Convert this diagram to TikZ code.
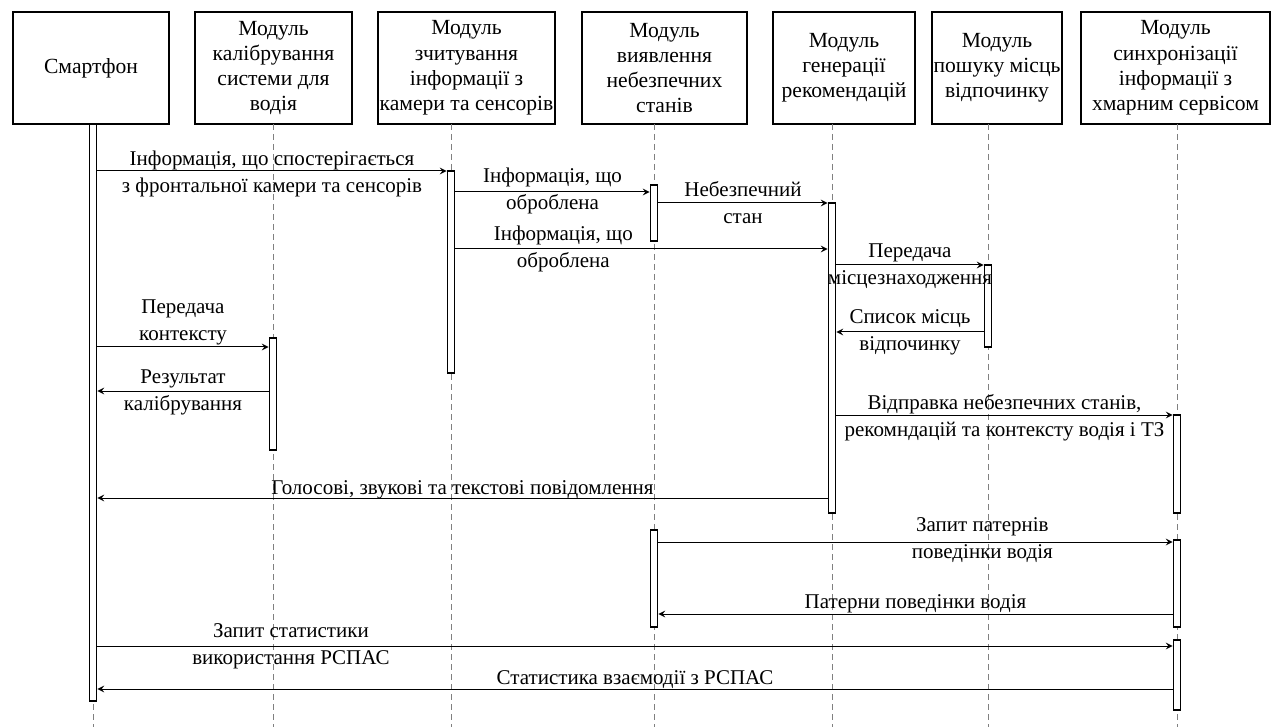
\documentclass[tikz,border=0pt]{standalone}
\usepackage{fontspec}
\setmainfont{Liberation Serif}
\usetikzlibrary{arrows,positioning,fit,calc}

\begin{document}
\begin{tikzpicture}[x=0.5pt, y=-0.5pt, node distance=13pt]
  \tikzstyle{box} = [rectangle, draw, line width=0.6pt, align=center, minimum height=56pt, inner xsep=0pt, outer sep=0pt, font=\fontsize{10.8}{12.6}\selectfont]
  \tikzstyle{life} = [gray, densely dashed, line width=0.4pt]
  \tikzstyle{bar} = [rectangle, draw, line width=0.9pt, fill=white, inner xsep=1.75pt, inner ysep=0pt]
  \tikzstyle{msg} = [->, >=stealth, line width=0.5pt]
  \tikzstyle{lbl} = [align=center, inner sep=0pt, font=\fontsize{10.5}{13.5}\selectfont]
  \useasboundingbox[fill=white] (0,0) rectangle (1280,727);

  % participants
  \node [box, minimum width=78pt] (sm) at (91,68) {Смартфон};
  \node [box, minimum width=78.5pt, right=of sm] (cal) {Модуль\\калібрування\\системи для\\водія};
  \node [box, minimum width=88.5pt, right=of cal] (rd) {Модуль\\зчитування\\інформації з\\камери та сенсорів};
  \node [box, minimum width=82.5pt, right=13.5pt of rd] (det) {Модуль\\виявлення\\небезпечних\\станів};
  \node [box, minimum width=71pt, right=of det] (gen) {Модуль\\генерації\\рекомендацій};
  \node [box, minimum width=65pt, right=8.5pt of gen] (rest) {Модуль\\пошуку місць\\відпочинку};
  \node [box, minimum width=94.5pt, right=9.5pt of rest] (sync) {Модуль\\синхронізації\\інформації з\\хмарним сервісом};

  % lifelines
  \foreach \n/\x in {sm/93, cal/273, rd/451, det/654, gen/832, rest/988, sync/1177}
    \draw [life] (\n.south -| \x,0) -- (\x,727);

  % activations
  \node [bar, fit={(93,124) (93,701)}] (smbar) {};
  \node [bar, fit={(273,338) (273,450)}] (calbar) {};
  \node [bar, fit={(451,171) (451,373)}] (rdbar) {};
  \node [bar, fit={(654,185) (654,241)}] (detbar) {};
  \node [bar, fit={(832,203) (832,513)}] (genbar) {};
  \node [bar, fit={(988,265) (988,347)}] (restbar) {};
  \node [bar, fit={(1177,415) (1177,513)}] (syncbar) {};
  \node [bar, fit={(654,530) (654,627)}] (detbar2) {};
  \node [bar, fit={(1177,540) (1177,627)}] (syncbar2) {};
  \node [bar, fit={(1177,640) (1177,710)}] (syncbar3) {};

  % messages
  \draw [msg] (smbar.east |- 0,171) -- node[lbl, yshift=-1.5pt] {Інформація, що спостерігається\\з фронтальної камери та сенсорів} (rdbar.west |- 0,171);
  \draw [msg] (rdbar.east |- 0,192) -- node[lbl, yshift=0.75pt] {Інформація, що\\оброблена} (detbar.west |- 0,192);
  \draw [msg] (detbar.east |- 0,203) -- node[lbl] {Небезпечний\\стан} (genbar.west |- 0,203);
  \draw [msg] (rdbar.east |- 0,249) -- node[lbl, pos=0.29] {Інформація, що\\оброблена} (genbar.west |- 0,249);
  \draw [msg] (genbar.east |- 0,265) -- node[lbl, yshift=-0.75pt] {Передача\\місцезнаходження} (restbar.west |- 0,265);
  \draw [msg] (restbar.west |- 0,332) -- node[lbl] {Список місць\\відпочинку} (genbar.east |- 0,332);
  \draw [msg] (smbar.east |- 0,347) -- node[lbl, yshift=12.25pt] {Передача\\контексту} (calbar.west |- 0,347);
  \draw [msg] (calbar.west |- 0,391) -- node[lbl, yshift=-0.75pt] {Результат\\калібрування} (smbar.east |- 0,391);
  \draw [msg] (genbar.east |- 0,415) -- node[lbl, yshift=-1.25pt] {Відправка небезпечних станів,\\рекомндацій та контексту водія і ТЗ} (syncbar.west |- 0,415);
  \draw [msg] (genbar.west |- 0,498) -- node[lbl, anchor=base, yshift=2pt] {Голосові, звукові та текстові повідомлення} (smbar.east |- 0,498);
  \draw [msg] (detbar2.east |- 0,542) -- node[lbl, pos=0.63, yshift=1pt] {Запит патернів\\поведінки водія} (syncbar2.west |- 0,542);
  \draw [msg] (syncbar2.west |- 0,614) -- node[lbl, anchor=base, yshift=3pt] {Патерни поведінки водія} (detbar2.east |- 0,614);
  \draw [msg] (smbar.east |- 0,646) -- node[lbl, pos=0.18] {Запит статистики\\використання РСПАС} (syncbar3.west |- 0,646);
  \draw [msg] (syncbar3.west |- 0,689) -- node[lbl, anchor=base, yshift=2.5pt] {Статистика взаємодії з РСПАС} (smbar.east |- 0,689);
\end{tikzpicture}
\end{document}
